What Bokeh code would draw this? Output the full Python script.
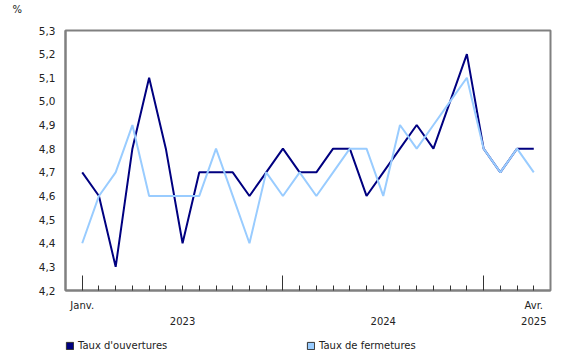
from bokeh.plotting import figure
from bokeh.layouts import column
from bokeh.models import (FixedTicker, CustomJSTickFormatter, Legend, LegendItem, Range1d, LinearAxis)
from bokeh.embed import file_html
from bokeh.resources import INLINE

# ---- data ----
months = ["Janv.", "Févr.", "Mars", "Avr.", "Mai", "Juin", "Juil.", "Août", "Sept.", "Oct.", "Nov.", "Déc.",
          "Janv.", "Févr.", "Mars", "Avr.", "Mai", "Juin", "Juil.", "Août", "Sept.", "Oct.", "Nov.", "Déc.",
          "Janv.", "Févr.", "Mars", "Avr."]
years = ["2023", "2024", "2025"]
year_label_pos = [6, 18, 27]
taux_ouvertures = [4.7, 4.6, 4.3, 4.8, 5.1, 4.8, 4.4, 4.7, 4.7, 4.7, 4.6, 4.7,
                   4.8, 4.7, 4.7, 4.8, 4.8, 4.6, 4.7, 4.8, 4.9, 4.8, 5.0, 5.2,
                   4.8, 4.7, 4.8, 4.8]
taux_fermetures = [4.4, 4.6, 4.7, 4.9, 4.6, 4.6, 4.6, 4.6, 4.8, 4.6, 4.4, 4.7,
                   4.6, 4.7, 4.6, 4.7, 4.8, 4.8, 4.6, 4.9, 4.8, 4.9, 5.0, 5.1,
                   4.8, 4.7, 4.8, 4.7]
series_names = ["Taux d'ouvertures", "Taux de fermetures"]
y_ticks = [4.2, 4.3, 4.4, 4.5, 4.6, 4.7, 4.8, 4.9, 5.0, 5.1, 5.2, 5.3]

# ---- layout ----
W = 580
H_MAIN, H_LEG = 330, 30
L, R, T, B = 65, 30, 30, 40
FONT = "DejaVu Sans"
FS_Y = "10.5px"
FS = "10px"
TXT = "#222222"
NAVY = "#000080"
LIGHT = "#99CCFF"
GRAY = "#808080"
NAN = float("nan")

n = len(months)
x = list(range(n))

p = figure(width=W, height=H_MAIN, output_backend="svg", toolbar_location=None,
           x_range=Range1d(-1, n), y_range=Range1d(y_ticks[0], y_ticks[-1]),
           min_border_left=L, min_border_right=R, min_border_top=T, min_border_bottom=B,
           title="%\n")
p.background_fill_color = "white"
p.border_fill_color = "white"
p.outline_line_color = GRAY
p.outline_line_width = 2
p.xgrid.visible = False
p.ygrid.visible = False

p.title.text_font = FONT
p.title.text_font_size = FS
p.title.text_font_style = "normal"
p.title.text_color = TXT
p.title.text_line_height = 1.45
p.title.align = "left"
p.title.offset = 12 - L
p.title.standoff = 0

# y axis
ya = p.yaxis[0]
ya.ticker = FixedTicker(ticks=y_ticks)
ya.formatter = CustomJSTickFormatter(code="return tick.toFixed(1).replace('.', ',');")
ya.major_tick_in = 0
ya.major_tick_out = 0
ya.minor_tick_in = 0
ya.minor_tick_out = 0
ya.axis_line_color = GRAY
ya.axis_line_width = 2
ya.major_label_standoff = 10
ya.major_label_text_font = FONT
ya.major_label_text_font_size = FS_Y
ya.major_label_text_color = TXT

# x axis: ticks only
xa = p.xaxis[0]
xa.ticker = FixedTicker(ticks=[0, 12, 24], minor_ticks=[i for i in x if i % 12 != 0])
xa.formatter = CustomJSTickFormatter(code="return '';")
xa.major_tick_in = 15
xa.major_tick_out = 0
xa.minor_tick_in = 5
xa.minor_tick_out = 0
xa.major_tick_line_color = "#333333"
xa.minor_tick_line_color = "#333333"
xa.axis_line_color = GRAY
xa.axis_line_width = 2
xa.major_label_standoff = 0
xa.major_label_text_font_size = "1px"

def text_axis(ticks, labels, standoff):
    ax = LinearAxis(ticker=FixedTicker(ticks=ticks),
                    major_label_overrides={t: s for t, s in zip(ticks, labels)},
                    major_tick_in=0, major_tick_out=0, minor_tick_in=0, minor_tick_out=0,
                    axis_line_color=None, major_label_standoff=standoff,
                    major_label_text_font=FONT, major_label_text_font_size=FS,
                    major_label_text_color=TXT)
    p.add_layout(ax, "below")
    return ax

text_axis([0, n - 1], [months[0], months[-1]], 9)
text_axis(year_label_pos, years, 3)

# lines
p.line(x, taux_ouvertures, line_color=NAVY, line_width=2)
p.line(x, taux_fermetures, line_color=LIGHT, line_width=2)

# legend strip (frame aligned with the main plot by the column layout)
pl = figure(width=W, height=H_LEG, output_backend="svg", toolbar_location=None,
            x_axis_location=None, y_axis_location=None,
            x_range=Range1d(0, 1), y_range=Range1d(0, 1),
            min_border_left=0, min_border_right=0, min_border_top=0, min_border_bottom=0)
pl.outline_line_color = None
pl.xgrid.visible = False
pl.ygrid.visible = False
for name, col, lx in [(series_names[0], NAVY, 65), (series_names[1], LIGHT, 306)]:
    sw = pl.quad(left=[NAN], right=[NAN], top=[NAN], bottom=[NAN],
                 fill_color=col, line_color="#333333", line_width=1)
    leg = Legend(items=[LegendItem(label=name, renderers=[sw])], location=(lx - L, 9),
                 padding=0, margin=0, border_line_color=None, background_fill_alpha=0,
                 glyph_width=9, glyph_height=9, label_height=9, label_standoff=4,
                 label_text_font=FONT, label_text_font_size=FS, label_text_color=TXT,
                 label_text_baseline="middle")
    pl.add_layout(leg, "center")

open("out.html", "w").write(file_html(column(p, pl, spacing=0), INLINE))
